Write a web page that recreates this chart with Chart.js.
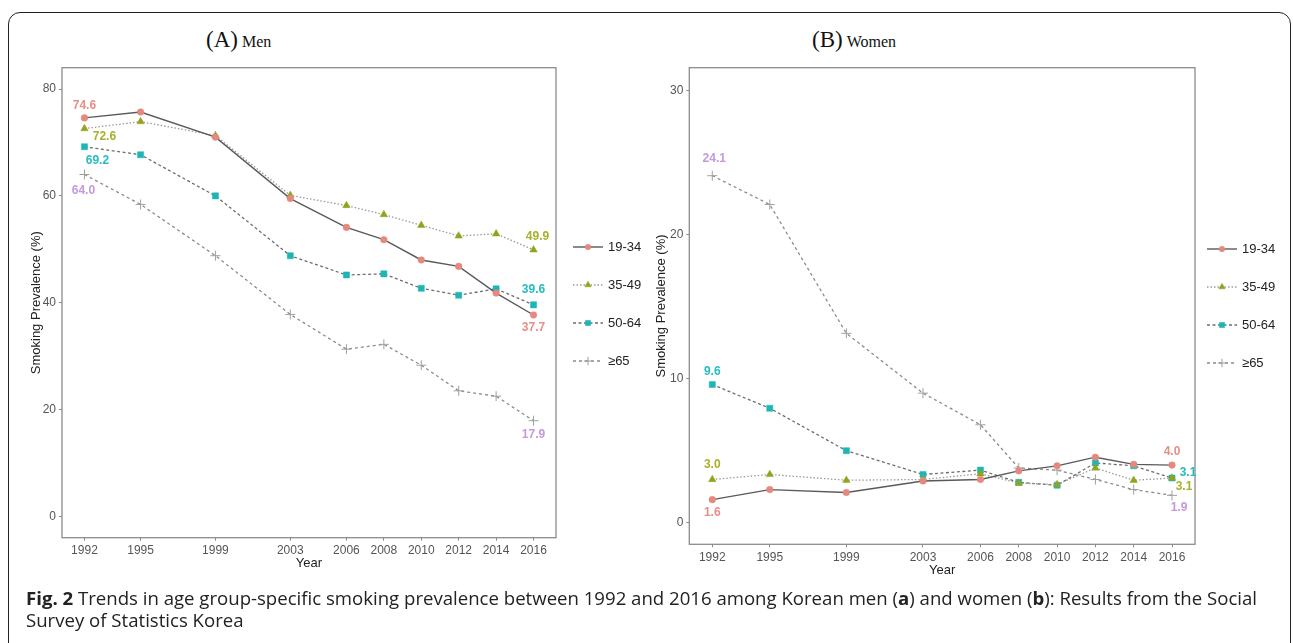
<!DOCTYPE html>
<html lang="en">
<head>
<meta charset="UTF-8">
<title>Smoking prevalence by age group</title>
<script src="https://cdn.jsdelivr.net/npm/chart.js"></script>
<style>
  body { margin:0; width:1293px; height:643px; overflow:hidden; background:#fff; position:relative; font-family:"Liberation Sans", Arial, sans-serif; }
  .frame { position:absolute; left:8px; top:12px; width:1283px; height:660px; border:1.5px solid #222; border-radius:12px; box-sizing:border-box; }
  .panel { position:absolute; top:0; height:590px; }
  .ptitle { position:absolute; top:28px; line-height:24px; font-family:"Liberation Serif", "Times New Roman", serif; color:#111; white-space:nowrap; }
  .ptitle .big { font-size:23px; }
  .ptitle .small { font-size:16px; }
  .caption { position:absolute; left:26px; top:587px; font-family:"Open Sans", sans-serif; font-size:18.6px; line-height:22px; color:#222; white-space:nowrap; }
</style>
</head>
<body>
<div class="frame"></div>

<div class="ptitle" style="left:206px"><span class="big">(A)</span> <span class="small">Men</span></div>
<div class="ptitle" style="left:812px"><span class="big">(B)</span> <span class="small">Women</span></div>

<div class="panel" style="left:0; width:648px"><canvas id="menChart"></canvas></div>
<div class="panel" style="left:648px; width:645px"><canvas id="womenChart"></canvas></div>

<div class="caption"><b>Fig. 2</b> Trends in age group-specific smoking prevalence between 1992 and 2016 among Korean men (<b>a</b>) and women (<b>b</b>): Results from the Social<br>Survey of Statistics Korea</div>

<script>
// ---- data ----
const years = [1992, 1995, 1999, 2003, 2006, 2008, 2010, 2012, 2014, 2016];
const groups = ['19-34', '35-49', '50-64', '≥65'];

const men1934 = [74.6, 75.7, 71.0, 59.5, 54.1, 51.8, 48.0, 46.8, 41.8, 37.7];
const men3549 = [72.6, 73.9, 71.3, 60.1, 58.2, 56.5, 54.5, 52.5, 52.9, 49.9];
const men5064 = [69.2, 67.7, 60.0, 48.8, 45.2, 45.4, 42.7, 41.4, 42.6, 39.6];
const men65 = [64.0, 58.4, 48.8, 37.8, 31.3, 32.2, 28.3, 23.5, 22.5, 17.9];

const women1934 = [1.6, 2.3, 2.1, 2.9, 3.0, 3.6, 3.95, 4.55, 4.05, 4.0];
const women3549 = [3.0, 3.35, 2.95, 3.0, 3.4, 2.75, 2.65, 3.8, 2.95, 3.1];
const women5064 = [9.6, 7.95, 5.0, 3.35, 3.65, 2.8, 2.6, 4.15, 3.95, 3.1];
const women65 = [24.1, 22.1, 13.15, 9.0, 6.8, 3.8, 3.65, 3.0, 2.3, 1.9];

const menYTicks = [0, 20, 40, 60, 80];
const womenYTicks = [0, 10, 20, 30];

// ---- styles per age group ----
const lineColors = ['#5a5a5a', '#9a9a9a', '#6e6e6e', '#8c8c8c'];
const lineDashes = [[], [1.5, 2], [3, 2.5], [3, 3]];
const pointColors = ['#e5887e', '#94a21c', '#1db5b5', '#a0a0a0'];
const pointStyles = ['circle', 'triangle', 'rect', 'cross'];
const pointSizes = [3.3, 4.3, 4.3, 5];
const labelColors = ['#e58f86', '#a7b12a', '#28bcc0', '#c49adc'];

const axisGrey = '#8c8c8c';

function makeDatasets(series) {
  return series.map((vals, i) => ({
    label: groups[i],
    data: years.map((yr, k) => ({ x: yr, y: vals[k] })),
    borderColor: lineColors[i],
    borderWidth: i === 0 ? 1.4 : 1.3,
    borderDash: lineDashes[i],
    pointStyle: pointStyles[i],
    pointRadius: pointSizes[i],
    pointBackgroundColor: pointColors[i],
    pointBorderColor: pointColors[i],
    pointBorderWidth: i === 3 ? 1 : 0.5,
    tension: 0
  }));
}

// draws the box around the plot area
const boxPlugin = {
  id: 'box',
  beforeDatasetsDraw(chart) {
    const a = chart.chartArea, ctx = chart.ctx;
    ctx.save();
    ctx.strokeStyle = axisGrey;
    ctx.lineWidth = 1.3;
    ctx.strokeRect(a.left, a.top, a.right - a.left, a.bottom - a.top);
    ctx.restore();
  }
};

// first / last value labels
const endLabels = {
  id: 'endLabels',
  afterDatasetsDraw(chart, args, opts) {
    const ctx = chart.ctx;
    ctx.save();
    ctx.font = 'bold 12px "Liberation Sans", Arial, sans-serif';
    ctx.textAlign = 'center';
    ctx.textBaseline = 'middle';
    chart.data.datasets.forEach((ds, i) => {
      const pts = chart.getDatasetMeta(i).data;
      const first = pts[0], last = pts[pts.length - 1];
      const o = opts.offsets[i];
      ctx.fillStyle = labelColors[i];
      ctx.fillText(ds.data[0].y.toFixed(1), first.x + o[0], first.y + o[1]);
      ctx.fillText(ds.data[ds.data.length - 1].y.toFixed(1), last.x + o[2], last.y + o[3]);
    });
    ctx.restore();
  }
};

// legend to the right of the plot
const sideLegend = {
  id: 'sideLegend',
  afterDraw(chart, args, opts) {
    const ctx = chart.ctx;
    const x0 = chart.chartArea.right + opts.gap;
    ctx.save();
    chart.data.datasets.forEach((ds, i) => {
      const y = opts.top + i * opts.step;
      ctx.strokeStyle = ds.borderColor;
      ctx.lineWidth = ds.borderWidth;
      ctx.setLineDash(ds.borderDash);
      ctx.beginPath();
      ctx.moveTo(x0, y);
      ctx.lineTo(x0 + 30, y);
      ctx.stroke();
      ctx.setLineDash([]);
      ctx.fillStyle = ds.pointBackgroundColor;
      ctx.strokeStyle = ds.pointBorderColor;
      ctx.lineWidth = ds.pointBorderWidth;
      Chart.helpers.drawPoint(ctx, { pointStyle: ds.pointStyle, radius: ds.pointRadius * 0.85, rotation: 0, borderWidth: ds.pointBorderWidth }, x0 + 15, y);
      ctx.fillStyle = '#222';
      ctx.font = '13px "Liberation Sans", Arial, sans-serif';
      ctx.textAlign = 'left';
      ctx.textBaseline = 'middle';
      ctx.fillText(ds.label, x0 + 35, y);
    });
    ctx.restore();
  }
};

function makeChart(id, series, yMin, yMax, yTicks, geo) {
  return new Chart(document.getElementById(id), {
    type: 'line',
    data: { datasets: makeDatasets(series) },
    plugins: [boxPlugin, endLabels, sideLegend],
    options: {
      responsive: true,
      maintainAspectRatio: false,
      animation: false,
      layout: { padding: { left: 0, top: geo.top, right: geo.right, bottom: geo.bottom } },
      plugins: {
        legend: { display: false },
        tooltip: { enabled: false },
        endLabels: { offsets: geo.offsets },
        sideLegend: { gap: geo.legendGap, top: geo.legendTop, step: geo.legendStep }
      },
      scales: {
        x: {
          type: 'linear',
          min: 1990.8,
          max: 2017.2,
          afterBuildTicks: s => { s.ticks = years.map(v => ({ value: v })); },
          afterFit: s => { s.height = geo.xHeight; },
          ticks: { color: '#555', font: { size: 12, family: '"Liberation Sans", Arial, sans-serif' }, padding: 3, maxRotation: 0, autoSkip: false, callback: v => String(v) },
          grid: { drawOnChartArea: false, tickLength: 3, color: axisGrey },
          border: { display: false },
          title: { display: true, text: 'Year', color: '#222', font: { size: 13, family: '"Liberation Sans", Arial, sans-serif' }, padding: { top: 0, bottom: geo.yearPad } }
        },
        y: {
          min: yMin,
          max: yMax,
          afterBuildTicks: s => { s.ticks = yTicks.map(v => ({ value: v })); },
          afterFit: s => { s.width = geo.yWidth; },
          ticks: { color: '#555', font: { size: 12, family: '"Liberation Sans", Arial, sans-serif' }, padding: 3 },
          grid: { drawOnChartArea: false, tickLength: 3, color: axisGrey },
          border: { display: false },
          title: { display: true, text: 'Smoking Prevalence (%)', color: '#222', font: { size: 13, family: '"Liberation Sans", Arial, sans-serif' }, padding: { top: geo.yTitlePad, bottom: 0 } }
        }
      }
    }
  });
}

makeChart('menChart', [men1934, men3549, men5064, men65], -4, 84, menYTicks, {
  top: 67.7, right: 92, bottom: 12.3, xHeight: 40, yWidth: 62, yTitlePad: 28.8, yearPad: 6.5,
  legendGap: 17, legendTop: 247, legendStep: 38,
  offsets: [[0, -12, 0, 13], [20, 8, 4, -13], [13, 14, 0, -15], [-1, 16, 0, 14]]
});

makeChart('womenChart', [women1934, women3549, women5064, women65], -1.5, 31.6, womenYTicks, {
  top: 67.7, right: 98, bottom: 5.7, xHeight: 40, yWidth: 41.3, yTitlePad: 6, yearPad: 6,
  legendGap: 12, legendTop: 249, legendStep: 38,
  offsets: [[0, 13, 0, -13], [0, -15, 12, 9], [0, -13, 16, -5], [2, -17, 7, 12]]
});
</script>
</body>
</html>
